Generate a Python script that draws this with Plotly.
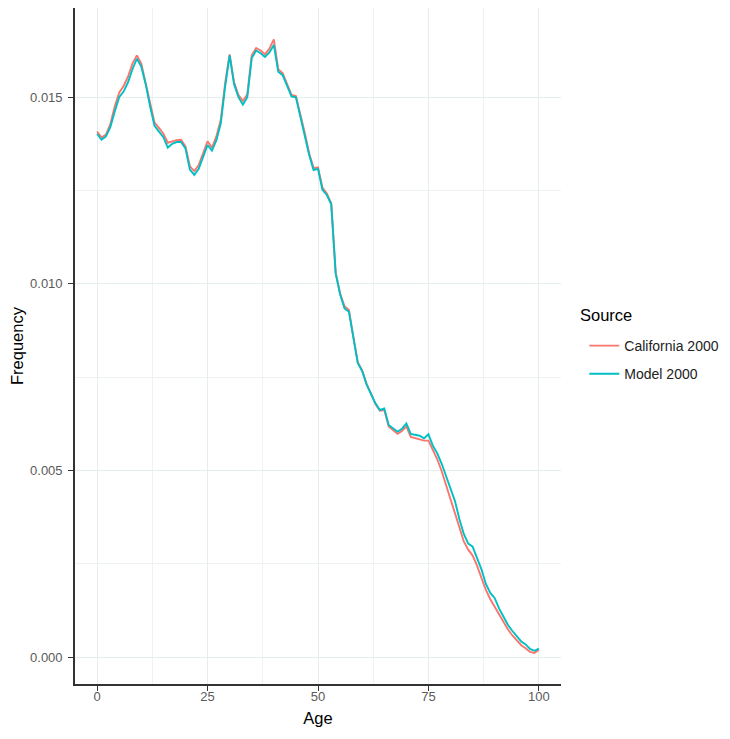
import plotly.graph_objects as go

ages = list(range(0, 101))

model_2000 = [
    0.01402, 0.01386, 0.01395, 0.01420, 0.01462, 0.01500, 0.01515, 0.01540, 0.01575, 0.01603,
    0.01582, 0.01535, 0.01475, 0.01423, 0.01408, 0.01393, 0.01365, 0.01375, 0.01380, 0.01380,
    0.01363, 0.01306, 0.01292, 0.01308, 0.01340, 0.01372, 0.01357, 0.01385, 0.01430, 0.01530,
    0.01612, 0.01535, 0.01500, 0.01480, 0.01500, 0.01605, 0.01625, 0.01618, 0.01608, 0.01620,
    0.01640, 0.01568, 0.01559, 0.01530, 0.01502, 0.01500, 0.01450, 0.01400, 0.01345, 0.01305,
    0.01308, 0.01252, 0.01238, 0.01213, 0.01028, 0.00972, 0.00934, 0.00925, 0.00855, 0.00788,
    0.00766, 0.00730, 0.00705, 0.00680, 0.00662, 0.00666, 0.00622, 0.00613, 0.00604, 0.00612,
    0.00626, 0.00598, 0.00596, 0.00593, 0.00586, 0.00597, 0.00566, 0.00546, 0.00518, 0.00485,
    0.00450, 0.00418, 0.00370, 0.00330, 0.00304, 0.00296, 0.00265, 0.00235, 0.00196, 0.00172,
    0.00158, 0.00130, 0.00108, 0.00086, 0.00070, 0.00055, 0.00042, 0.00034, 0.00022, 0.00017,
    0.00023,
]

california_2000 = [
    0.01408, 0.01392, 0.01400, 0.01428, 0.01475, 0.01512, 0.01530, 0.01555, 0.01590, 0.01612,
    0.01590, 0.01540, 0.01482, 0.01432, 0.01418, 0.01402, 0.01378, 0.01382, 0.01385, 0.01386,
    0.01368, 0.01315, 0.01302, 0.01318, 0.01348, 0.01382, 0.01365, 0.01395, 0.01440, 0.01540,
    0.01615, 0.01540, 0.01506, 0.01490, 0.01508, 0.01612, 0.01632, 0.01625, 0.01615, 0.01630,
    0.01655, 0.01575, 0.01565, 0.01535, 0.01506, 0.01503, 0.01455, 0.01405, 0.01350, 0.01310,
    0.01312, 0.01258, 0.01242, 0.01215, 0.01030, 0.00975, 0.00940, 0.00930, 0.00858, 0.00790,
    0.00768, 0.00732, 0.00706, 0.00678, 0.00660, 0.00662, 0.00618, 0.00608, 0.00598, 0.00606,
    0.00618, 0.00590, 0.00586, 0.00583, 0.00580, 0.00580, 0.00555, 0.00530, 0.00498, 0.00462,
    0.00425, 0.00390, 0.00348, 0.00310, 0.00288, 0.00272, 0.00245, 0.00212, 0.00180, 0.00155,
    0.00135, 0.00112, 0.00092, 0.00074, 0.00058, 0.00044, 0.00032, 0.00024, 0.00014, 0.00011,
    0.00020,
]

x_ticks = [0, 25, 50, 75, 100]
y_ticks = [0.000, 0.005, 0.010, 0.015]

FONT = "Liberation Sans, Arial, sans-serif"

fig = go.Figure()
fig.add_trace(go.Scatter(x=ages, y=california_2000, mode="lines", name="California 2000",
                         legendgroup="cal", line=dict(color="#F8766D", width=1.9)))
fig.add_trace(go.Scatter(x=ages, y=model_2000, mode="lines", name="Model 2000",
                         legendgroup="mod", line=dict(color="#00BFC4", width=1.9)))

axis_common = dict(
    showline=True, linecolor="#333333", linewidth=1.6,
    ticks="outside", ticklen=5, tickwidth=1, tickcolor="#333333",
    showgrid=True, gridcolor="#e6eded", gridwidth=1,
    zeroline=False,
    tickfont=dict(family=FONT, size=13, color="#5a5a5a"),
)

fig.update_layout(
    width=722, height=731,
    margin=dict(l=67, r=169, t=0, b=55),
    paper_bgcolor="white", plot_bgcolor="white",
    font=dict(family=FONT, color="#000000"),
    xaxis=dict(range=[-5, 105], tickvals=x_ticks, ticklabelstandoff=-5,
               title=dict(text="Age", font=dict(size=16.5), standoff=9),
               minor=dict(showgrid=True, tickvals=[12.5, 37.5, 62.5, 87.5], gridcolor="#eef2f2", gridwidth=0.6),
               **axis_common),
    yaxis=dict(range=[-0.00072, 0.01739], tickvals=y_ticks, tickformat=".3f", ticklabelstandoff=3,
               title=dict(text="Frequency", font=dict(size=16.5), standoff=12),
               minor=dict(showgrid=True, tickvals=[0.0025, 0.0075, 0.0125], gridcolor="#eef2f2", gridwidth=0.6),
               **axis_common),
    legend=dict(
        x=1.048, xanchor="left", y=(684 - 360) / 676, yanchor="middle",
        font=dict(size=14, color="#222222"),
        bgcolor="rgba(0,0,0,0)",
        tracegroupgap=7,
    ),
    showlegend=True,
    annotations=[dict(text="Source", xref="paper", yref="paper",
                      x=(578 - 75) / 486, y=(684 - 315) / 676, xanchor="left", yanchor="middle",
                      showarrow=False, font=dict(family=FONT, size=16.5, color="#000000"))],
)

fig.write_html("out.html")
